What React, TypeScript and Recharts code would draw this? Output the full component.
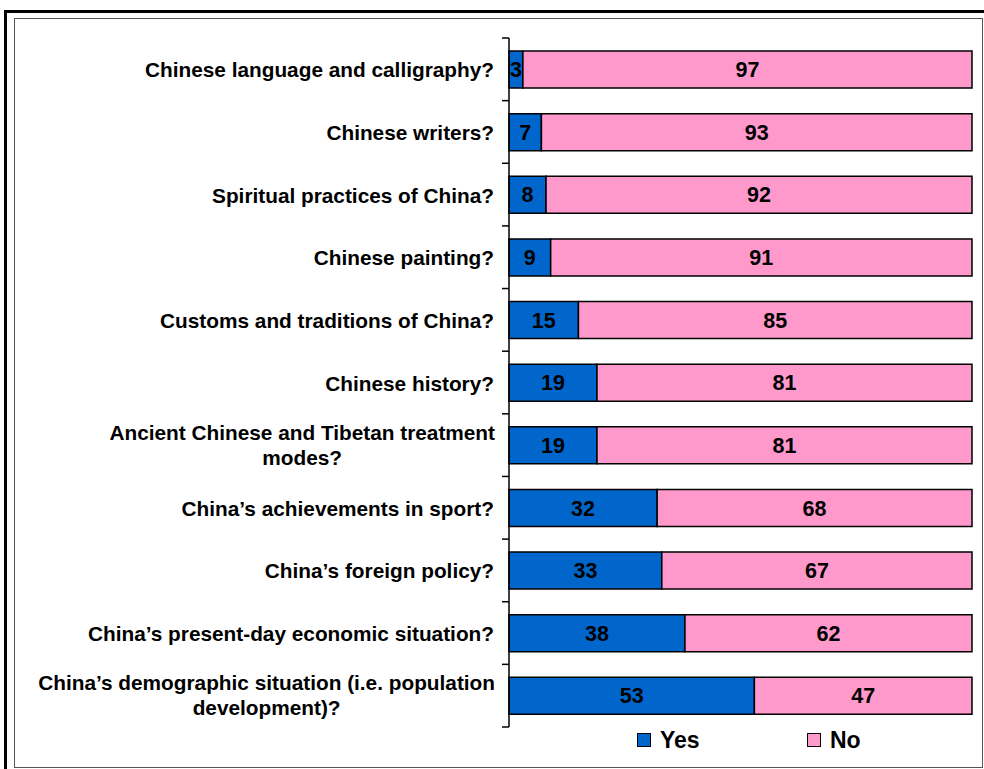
import React from "react";
import { BarChart, Bar, XAxis, YAxis, LabelList } from "recharts";

const categories = [
  "Chinese language and calligraphy?",
  "Chinese writers?",
  "Spiritual practices of China?",
  "Chinese painting?",
  "Customs and traditions of China?",
  "Chinese history?",
  "Ancient Chinese and Tibetan treatment\nmodes?",
  "China’s achievements in sport?",
  "China’s foreign policy?",
  "China’s present-day economic situation?",
  "China’s demographic situation (i.e. population\ndevelopment)?",
];
const yesValues = [3, 7, 8, 9, 15, 19, 19, 32, 33, 38, 53];
const noValues = [97, 93, 92, 91, 85, 81, 81, 68, 67, 62, 47];
const seriesNames = ["Yes", "No"];

const data = categories.map((c, i) => ({ name: c, yes: yesValues[i], no: noValues[i] }));

const FONT = "'Liberation Sans', Arial, sans-serif";
const BLUE = "#0066CC";
const PINK = "#FF99CC";
const CAT_SIZE = 20.8;

const W = 984;
const H = 769;
const PLOT_TOP = 38;
const PLOT_BOTTOM = 727;
const AXIS_X = 509;
const band = (PLOT_BOTTOM - PLOT_TOP) / categories.length;

const measure = (() => {
  let ctx: CanvasRenderingContext2D | null = null;
  return (s: string) => {
    if (!ctx) {
      const c = document.createElement("canvas");
      ctx = c.getContext("2d");
    }
    if (!ctx) return s.length * 10;
    ctx.font = `bold ${CAT_SIZE}px ${FONT}`;
    return ctx.measureText(s).width;
  };
})();

const CategoryTick = (props: any) => {
  const { y, payload, index } = props;
  const lines: string[] = String(payload.value).split("\n");
  const right = AXIS_X - 15;
  const lineH = 25;
  const startY = y - ((lines.length - 1) * lineH) / 2 - (lines.length > 1 ? 1 : 0);
  const widest = Math.max(...lines.map(measure));
  const multi = lines.length > 1;
  const tx = multi ? right + 1 - widest / 2 : right;
  const isLast = index === categories.length - 1;
  return (
    <g>
      <line x1={AXIS_X - 7} x2={AXIS_X} y1={y - band / 2} y2={y - band / 2} stroke="#000" strokeWidth={1.5} />
      {isLast && (
        <line x1={AXIS_X - 7} x2={AXIS_X} y1={y + band / 2} y2={y + band / 2} stroke="#000" strokeWidth={1.5} />
      )}
      <text
        x={tx}
        y={startY}
        textAnchor={multi ? "middle" : "end"}
        dominantBaseline="central"
        fontFamily={FONT}
        fontWeight="bold"
        fontSize={CAT_SIZE}
        fill="#000"
      >
        {lines.map((l, i) => (
          <tspan key={i} x={tx} dy={i === 0 ? 0 : lineH}>
            {l}
          </tspan>
        ))}
      </text>
    </g>
  );
};

const App: React.FC = () => {
  return (
    <div style={{ position: "absolute", left: 0, top: 0, width: W, height: H, background: "#fff", overflow: "hidden" }}>
      {/* outer frame */}
      <div style={{ position: "absolute", left: 4, top: 10, width: 1000, height: 800, border: "3px solid #000" }} />
      {/* inner frame */}
      <div
        style={{
          position: "absolute",
          left: 14,
          top: 18,
          width: 967,
          height: 748,
          border: "1px solid #555",
        }}
      />
      <div style={{ position: "absolute", left: 0, top: 0 }}>
        <BarChart
          width={W}
          height={H}
          data={data}
          layout="vertical"
          margin={{ top: PLOT_TOP, right: W - 972, bottom: H - PLOT_BOTTOM, left: 0 }}
          barSize={37}
        >
          <XAxis type="number" domain={[0, 100]} hide />
          <YAxis
            type="category"
            dataKey="name"
            width={AXIS_X}
            axisLine={{ stroke: "#000", strokeWidth: 1.5 }}
            tickLine={false}
            tick={<CategoryTick />}
            interval={0}
          />
          <Bar dataKey="yes" stackId="a" fill={BLUE} stroke="#000" strokeWidth={1.5} isAnimationActive={false}>
            <LabelList dataKey="yes" position="center" fill="#000" fontFamily={FONT} fontWeight="bold" fontSize={21.5} />
          </Bar>
          <Bar dataKey="no" stackId="a" fill={PINK} stroke="#000" strokeWidth={1.5} isAnimationActive={false}>
            <LabelList dataKey="no" position="center" fill="#000" fontFamily={FONT} fontWeight="bold" fontSize={21.5} />
          </Bar>
        </BarChart>
      </div>
      {/* legend */}
      {seriesNames.map((s, i) => (
        <div
          key={s}
          style={{
            position: "absolute",
            left: i === 0 ? 637 : 807,
            top: 727,
            display: "flex",
            alignItems: "center",
            fontFamily: FONT,
            fontWeight: "bold",
            fontSize: 23,
            lineHeight: "26px",
          }}
        >
          <span
            style={{
              display: "inline-block",
              width: 12,
              height: 12,
              background: i === 0 ? BLUE : PINK,
              border: "1px solid #000",
              marginRight: 9,
            }}
          />
          {s}
        </div>
      ))}
    </div>
  );
};

export default App;
